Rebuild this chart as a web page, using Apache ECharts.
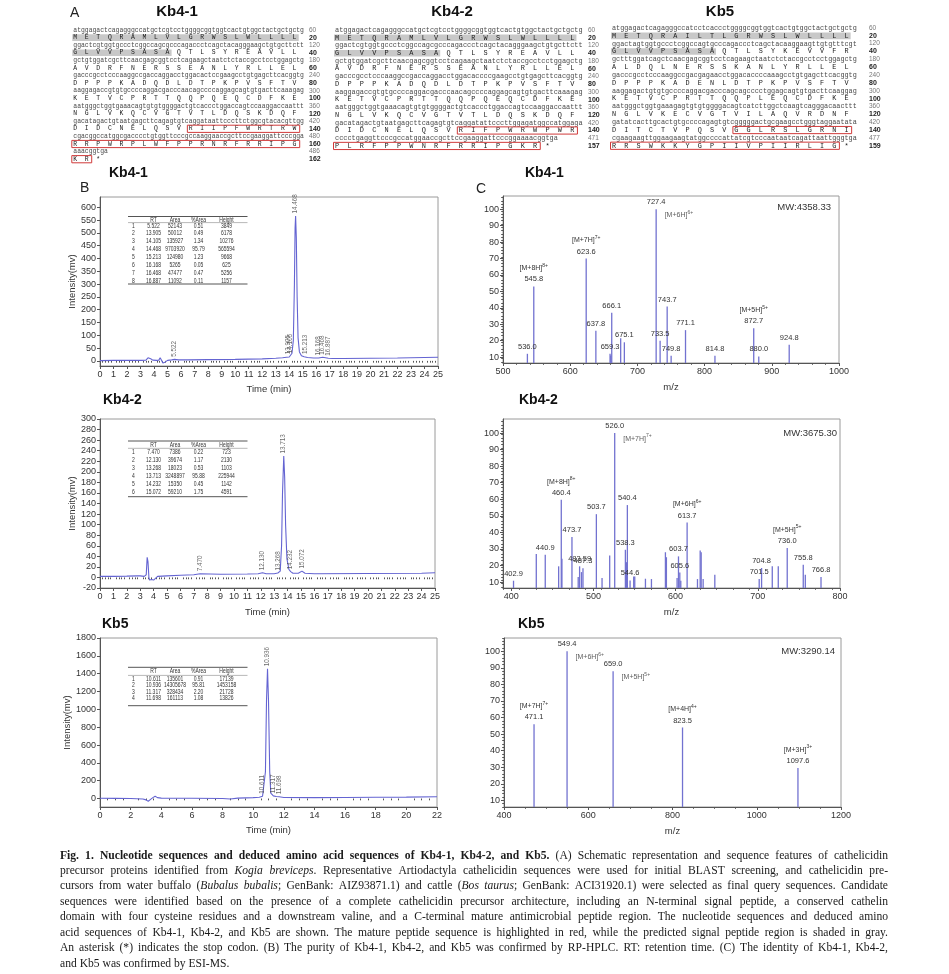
<!DOCTYPE html>
<html><head><meta charset="utf-8">
<script src="https://cdn.jsdelivr.net/npm/echarts@6/dist/echarts.min.js"></script>
<style>html,body{margin:0;padding:0;background:#fff}#c{width:949px;height:974px}</style>
</head><body><div id="c"></div>
<script>
// ================= DATA =================
const seqTitles = ['Kb4-1', 'Kb4-2', 'Kb5'];
const seq41Nt = [
'atggagactcagagggccatgctcgtcctggggcggtggtcactgtggctactgctgctg',
'ggactcgtggtgccctcggccagcgcccagaccctcagctacagggaagctgtgcttctt',
'gctgtggatcgcttcaacgagcggtcctcagaagctaatctctaccgcctcctggagctg',
'gacccgcctcccaaggccgaccaggacctggacactccgaagcctgtgagcttcacggtg',
'aaggagaccgtgtgccccaggacgacccaacagccccaggagcagtgtgacttcaaagag',
'aatgggctggtgaaacagtgtgtggggactgtcaccctggaccagtccaaggaccaattt',
'gacatagactgtaatgagcttcagagtgtcaggataattcccttctggcgtacacgttgg',
'cgacggccatggcgacccctgtggttcccgccaaggaaccgcttccgaaggattcccgga',
'aaacggtga'];
const seq41Aa = ['METQRAMLVLGRWSLWLLLL','GLVVPSASAQTLSYREAVLL','AVDRFNERSSEANLYRLLEL','DPPPKADQDLDTPKPVSFTV','KETVCPRTTQQPQEQCDFKE','NGLVKQCVGTVTLDQSKDQF','DIDCNELQSVRIIPFWRTRW','RRPWRPLWFPPRNRFRRIPG','KR*'];
const seq41NtNum = [60,120,180,240,300,360,420,480,486];
const seq41AaNum = [20,40,60,80,100,120,140,160,162];

const seq42Nt = [
'atggagactcagagggccatgctcgtcctggggcggtggtcactgtggctactgctgctg',
'ggactcgtggtgccctcggccagcgcccagaccctcagctacagggaagctgtgcttctt',
'gctgtggatcgcttcaacgagcggtcctcagaagctaatctctaccgcctcctggagctg',
'gacccgcctcccaaggccgaccaggacctggacaccccgaagcctgtgagcttcacggtg',
'aaggagaccgtgtgccccaggacgacccaacagccccaggagcagtgtgacttcaaagag',
'aatgggctggtgaaacagtgtgtggggactgtcaccctggaccagtccaaggaccaattt',
'gacatagactgtaatgagcttcagagtgtcaggatattcccttggagatggccatggaga',
'cccctgaggttcccgccatggaaccgcttccgaaggattcccggaaaacggtga'];
const seq42Aa = ['METQRAMLVLGRWSLWLLLL','GLVVPSASAQTLSYREAVLL','AVDRFNERSSEANLYRLLEL','DPPPKADQDLDTPKPVSFTV','KETVCPRTTQQPQEQCDFKE','NGLVKQCVGTVTLDQSKDQF','DIDCNELQSVRIFPWRWPWR','PLRFPPWNRFRRIPGKR*'];
const seq42NtNum = [60,120,180,240,300,360,420,471];
const seq42AaNum = [20,40,60,80,100,120,140,157];

const seq5Nt = [
'atggagactcagagggccatcctcaccctggggcggtggtcactgtggctactgctgctg',
'ggactagtggtgccctcggccagtgcccagaccctcagctacaaggaagttgtgtttcgt',
'gctttggatcagctcaacgagcggtcctcagaagctaatctctaccgcctcctggagctg',
'gacccgcctcccaaggccgacgagaacctggacaccccaaagcctgtgagcttcacggtg',
'aaggagactgtgtgccccaggacgacccagcagcccctggagcagtgtgacttcaaggag',
'aatgggctggtgaaagagtgtgtggggacagtcatcttggctcaagtcagggacaacttt',
'gatatcacttgcactgtgccccagagtgtcgggggactgcgaagcctgggtaggaatata',
'cgaagaagttggaagaagtatggccccattatcgtcccaataatcagattaattgggtga'];
const seq5Aa = ['METQRAILTLGRWSLWLLLL','GLVVPSASAQTLSYKEVVFR','ALDQLNERSSKANLYRLLEL','DPPPKADENLDTPKPVSFTV','KETVCPRTTQQPLEQCDFKE','NGLVKECVGTVILAQVRDNF','DITCTVPQSVGGLRSLGRNI','RRSWKKYGPIIVPIIRLIG*'];
const seq5NtNum = [60,120,180,240,300,360,420,477];
const seq5AaNum = [20,40,60,80,100,120,140,159];

// signal peptide (gray) and mature peptide (red) regions: [aa row, first residue, last residue]
const signal41 = [[0,0,19],[1,0,8]], mature41 = [[6,10,19],[7,0,19],[8,0,1]];
const signal42 = [[0,0,19],[1,0,8]], mature42 = [[6,10,19],[7,0,16]];
const signal5  = [[0,0,19],[1,0,8]], mature5  = [[6,10,19],[7,0,18]];

// RP-HPLC chromatograms (time in min, intensity in mV)
const hplc41T = [0,1,2,3,3.4,3.55,3.65,3.75,3.9,4.2,4.35,4.45,4.5,4.55,4.65,4.8,5.0,5.3,5.52,5.8,6.5,8,10,12,13,13.5,13.8,13.9,14.0,14.1,14.2,14.3,14.38,14.43,14.468,14.52,14.58,14.65,14.75,14.9,15.1,15.21,15.35,15.8,16.17,16.3,16.47,16.6,16.89,17.2,18,20,22,23,25];
const hplc41V = [1,2,2,2,3,12,15,8,3,2,3,12,13,2,-8,-5,2,4,6,4,4,5,6,8,10,12,14,16,15,20,30,80,300,520,566,480,250,90,35,20,16,17,13,11,11,10,14,11,10,9,9,10,11,12,14];
const hplc42T = [0,1,2,2.8,2.9,3.0,3.3,3.45,3.52,3.58,3.65,3.7,3.85,4.0,4.1,4.3,5,6,7,7.47,7.6,9,11,11.8,12.13,12.4,13.0,13.27,13.45,13.55,13.62,13.713,13.78,13.85,13.95,14.1,14.23,14.4,14.8,15.07,15.3,16,20,24,25];
const hplc42V = [2,2,2.5,3,4.5,3,2,5,38,30,0,-5,-4,-5,-2,2,3,4,5,7,5.5,6,6.5,7,9,7,7,8.5,12,60,160,230,190,100,35,15,11,8,8,12,8,7,7.5,8,9];
const hplc5T = [0,1,2,2.8,3.0,3.15,3.3,3.45,3.6,3.75,4.0,6,8,8.5,9,10,10.4,10.611,10.7,10.8,10.87,10.936,11.0,11.08,11.15,11.317,11.5,11.698,12,14,16,18,20,22];
const hplc5V = [3,2,0,-5,-15,-30,-10,10,25,10,5,3,0,-5,5,10,14,25,35,300,1100,1455,1100,300,60,30,22,20,12,10,12,14,16,20];

// peak tables: No, RT, Area, %Area, Height
const tableHead = ['', 'RT', 'Area', '%Area', 'Height'];
const table41 = [[1,'5.522','52143','0.51','3849'],[2,'13.905','50012','0.49','6178'],[3,'14.105','135927','1.34','10276'],[4,'14.468','9703920','95.79','565594'],[5,'15.213','124980','1.23','9668'],[6,'16.168','5265','0.05','625'],[7,'16.468','47477','0.47','5256'],[8,'16.887','11092','0.11','1157']];
const table42 = [[1,'7.470','7386','0.22','723'],[2,'12.130','39674','1.17','2130'],[3,'13.268','18023','0.53','1103'],[4,'13.713','3248897','95.88','225944'],[5,'14.232','15350','0.45','1142'],[6,'15.072','59210','1.75','4591']];
const table5 = [[1,'10.611','135601','0.91','17139'],[2,'10.936','14305678','95.81','1453158'],[3,'11.317','328434','2.20','21728'],[4,'11.698','161113','1.08','13826']];

// ESI-MS spectra
const ms41Mz  = [536.3,545.8,623.8,638.2,659.3,660.3,661.8,675.1,680.6,727.9,733.8,744.3,750.2,771.6,815.4,873.1,880.6,925.9];
const ms41Int = [12,53,70,26,12,11,37,21.5,19,100,20,40.7,10.8,26.4,10.8,27.6,10.4,17.5];
const ms41Lbl = ['536.0','545.8','623.6','637.8','659.3','','666.1','','675.1','727.4','733.5','743.7','749.8','771.1','814.8','872.7','880.0','924.8'];
const ms41IonTop = {1:'[M+8H]8+', 2:'[M+7H]7+', 15:'[M+5H]5+'};
const ms41IonSide = {9:'[M+6H]6+'};
const ms41MW = 'MW:4358.33';

const ms42Mz  = [402.8,430.5,441.4,457.7,460.9,461.7,473.9,481.5,483.2,485.5,487.3,503.6,510.5,519.8,525.9,538.9,540.1,541.3,544.6,549,550.3,563.3,570.6,587.6,588.8,601.8,603.5,605.1,606.3,614,626.6,629.9,631.1,633.5,647.7,701.7,704.6,717.6,724.9,735.8,755.3,757.8,776.9];
const ms42Int = [10.8,27,26.5,19.5,59.7,24,37.2,13,19.5,16,18.4,51,12.4,26,100,29.5,22,56.5,11,13.4,13.4,12,11.8,28,25,12.4,25.5,15.8,10.8,46,11.8,29,28,11.8,14.4,11.8,18.5,19.5,19.5,30.5,20.5,14.4,13];
const ms42Lbl = ['402.9','','440.9','','460.4','','473.7','','483.59','','487.3','503.7','','','526.0','538.3','','540.4','544.6','','','','','','','','603.7','605.6','','613.7','','','','','','701.5','704.8','','','736.0','755.8','','766.8'];
const ms42IonTop = {4:'[M+8H]8+', 29:'[M+6H]6+', 39:'[M+5H]5+'};
const ms42IonSide = {14:'[M+7H]7+'};
const ms42MW = 'MW:3675.30';

const ms5Mz  = [471.3,549.7,659,823.8,1097.8];
const ms5Int = [56,100,88,54,29.6];
const ms5Lbl = ['471.1','549.4','659.0','823.5','1097.6'];
const ms5IonTop = {0:'[M+7H]7+', 3:'[M+4H]4+', 4:'[M+3H]3+'};
const ms5IonSide = {1:'[M+6H]6+', 2:'[M+5H]5+'};
const ms5MW = 'MW:3290.14';

const caption = [
 [['b','Fig. 1. Nucleotide sequences and deduced amino acid sequences of Kb4-1, Kb4-2, and Kb5.'],['r',' (A) Schematic representation and sequence features of cathelicidin']],
 [['r','precursor proteins identified from '],['i','Kogia breviceps'],['r','. Representative Artiodactyla cathelicidin sequences were used for initial BLAST screening, and cathelicidin pre-']],
 [['r','cursors from water buffalo ('],['i','Bubalus bubalis'],['r','; GenBank: AIZ93871.1) and cattle ('],['i','Bos taurus'],['r','; GenBank: ACI31920.1) were selected as final query sequences. Candidate']],
 [['r','sequences were identified based on the presence of a complete cathelicidin precursor architecture, including an N-terminal signal peptide, a conserved cathelin']],
 [['r','domain with four cysteine residues and a downstream valine, and a C-terminal mature antimicrobial peptide region. The nucleotide sequences and deduced amino']],
 [['r','acid sequences of Kb4-1, Kb4-2, and Kb5 are shown. The mature peptide sequence is highlighted in red, while the predicted signal peptide region is shaded in gray.']],
 [['r','An asterisk (*) indicates the stop codon. (B) The purity of Kb4-1, Kb4-2, and Kb5 was confirmed by RP-HPLC. RT: retention time. (C) The identity of Kb4-1, Kb4-2,']],
 [['r','and Kb5 was confirmed by ESI-MS.']]
];

// ================= HELPERS =================
const SANS = 'Liberation Sans', MONO = 'Liberation Mono', SERIF = 'Liberation Serif';
const G = [];
function txt(x, y, text, o) {
  o = o || {};
  const el = {type:'text', x:x, y:y, z:o.z || 5, silent:true, style:{text:text, fill:o.fill || '#222', fontSize:o.fs || 10,
    fontFamily:o.ff || SANS, fontWeight:o.fw || 'normal', fontStyle:o.fst || 'normal',
    align:o.align || 'left', verticalAlign:o.va || 'middle'}};
  if (o.sx) el.scaleX = o.sx;
  G.push(el);
}
function rect(x, y, w, h, o) {
  G.push({type:'rect', z:o.z || 1, silent:true, shape:{x:x, y:y, width:w, height:h},
    style:{fill:o.fill || 'none', stroke:o.stroke || null, lineWidth:o.lw || 1}});
}
function hline(x1, x2, y, o) {
  G.push({type:'line', z:3, silent:true, shape:{x1:x1, y1:y, x2:x2, y2:y}, style:{stroke:o.stroke || '#444', lineWidth:o.lw || 1}});
}
function range(a, b, s) { const r = []; for (let v = a; v <= b + 1e-9; v += s) r.push(+v.toFixed(6)); return r; }
function interp(ts, vs, t) {
  for (let i = 1; i < ts.length; i++) if (t <= ts[i]) { const f = (t - ts[i-1]) / (ts[i] - ts[i-1]); return vs[i-1] + f * (vs[i] - vs[i-1]); }
  return vs[vs.length - 1];
}

// ================= PANEL A : sequences =================
txt(70, 13, 'A', {fs:14});
const blocks = [
  {title:seqTitles[0], tx:177, x0:73.3, fs:6.42, y0:30, step:7.6, numX:309, nt:seq41Nt, aa:seq41Aa, ntN:seq41NtNum, aaN:seq41AaNum, sig:signal41, mat:mature41},
  {title:seqTitles[1], tx:452, x0:335, fs:6.88, y0:30, step:7.73, numX:588, nt:seq42Nt, aa:seq42Aa, ntN:seq42NtNum, aaN:seq42AaNum, sig:signal42, mat:mature42},
  {title:seqTitles[2], tx:720, x0:612, fs:6.8, y0:28, step:7.85, numX:869, nt:seq5Nt, aa:seq5Aa, ntN:seq5NtNum, aaN:seq5AaNum, sig:signal5, mat:mature5}
];
blocks.forEach(b => {
  txt(b.tx, 12, b.title, {fs:15, fw:'bold', align:'center', fill:'#111'});
  const cw = b.fs * 0.6;
  const aaY = r => b.y0 + (2 * r + 1) * b.step;
  b.nt.forEach((s, r) => {
    const y = b.y0 + 2 * r * b.step;
    txt(b.x0, y, s, {ff:MONO, fs:b.fs, fill:'#4a4a4a'});
    txt(b.numX, y, String(b.ntN[r]), {fs:6.5, fill:'#777'});
    txt(b.x0, aaY(r), b.aa[r].split('').join('  '), {ff:MONO, fs:b.fs, fill:'#1a1a1a'});
    txt(b.numX, aaY(r), String(b.aaN[r]), {fs:7, fw:'bold', fill:'#222'});
  });
  b.sig.forEach(([r, s, e]) => rect(b.x0 + s * 3 * cw - 1, aaY(r) - 3.3, ((e - s) * 3 + 1) * cw + 3, 6.6, {fill:'#c8c8c8', z:1}));
  b.mat.forEach(([r, s, e]) => rect(b.x0 + s * 3 * cw - 1.5, aaY(r) - 3.6, ((e - s) * 3 + 1) * cw + 4.5, 7.2, {stroke:'#d03a3a', lw:1, z:6}));
});

// ================= PANELS B & C : titles, tables, MW =================
txt(109, 173, 'Kb4-1', {fs:14, fw:'bold', fill:'#111'});
txt(80, 188, 'B', {fs:14});
txt(103, 400, 'Kb4-2', {fs:14, fw:'bold', fill:'#111'});
txt(102, 624, 'Kb5', {fs:14, fw:'bold', fill:'#111'});
txt(525, 173, 'Kb4-1', {fs:14, fw:'bold', fill:'#111'});
txt(476, 189, 'C', {fs:14});
txt(519, 400, 'Kb4-2', {fs:14, fw:'bold', fill:'#111'});
txt(518, 624, 'Kb5', {fs:14, fw:'bold', fill:'#111'});
txt(831, 207, ms41MW, {fs:9.5, align:'right', fill:'#333'});
txt(837, 433, ms42MW, {fs:9.5, align:'right', fill:'#333'});
txt(835, 651, ms5MW, {fs:9.5, align:'right', fill:'#333'});

function drawTable(t, rows) {
  const cols = [133.5, 153.5, 175, 198.5, 226.5];
  const o = {fs:6.4, align:'center', fill:'#333', sx:0.78};
  hline(128, 247.5, t.top, {lw:1, stroke:'#555'});
  tableHead.forEach((h, j) => txt(cols[j], t.head, h, o));
  hline(128, 247.5, t.under, {lw:0.6, stroke:'#888'});
  rows.forEach((r, i) => r.forEach((c, j) => txt(cols[j], t.row0 + i * t.step, String(c), o)));
  hline(128, 247.5, t.bottom, {lw:1, stroke:'#555'});
}
drawTable({top:216.5, head:220, under:222.6, row0:225.8, step:7.85, bottom:284}, table41);
drawTable({top:441, head:445, under:448.3, row0:452.3, step:8, bottom:496.7}, table42);
drawTable({top:667.3, head:671.7, under:675.4, row0:679.3, step:6.4, bottom:705.7}, table5);

// ================= CAPTION (justified) =================
const mctx = document.createElement('canvas').getContext('2d');
function capFont(st, fs) { return (st === 'i' ? 'italic ' : '') + (st === 'b' ? 'bold ' : '') + fs + 'px "' + SERIF + '"'; }
function mw(st, fs, t) { mctx.font = capFont(st, fs); return mctx.measureText(t).width; }
function toWords(line) {
  const ws = []; let cur = [];
  line.forEach(([st, t]) => {
    t.split(' ').forEach((p, k) => { if (k > 0) { if (cur.length) ws.push(cur); cur = []; } if (p) cur.push([st, p]); });
  });
  if (cur.length) ws.push(cur);
  return ws;
}
(function() {
  const capX = 60, capW = 828, y0 = 855.5, dy = 15.45;
  let fs = 11.6, worst = 1;
  caption.forEach((ln, li) => {
    if (li === caption.length - 1) return;
    const ws = toWords(ln);
    const tw = ws.reduce((a, w) => a + w.reduce((s, [st, t]) => s + mw(st, fs, t), 0), 0);
    worst = Math.min(worst, capW / (tw + fs * 0.18 * (ws.length - 1)));
  });
  fs = fs * worst;
  caption.forEach((ln, li) => {
    const ws = toWords(ln);
    const widths = ws.map(w => w.reduce((s, [st, t]) => s + mw(st, fs, t), 0));
    const tw = widths.reduce((a, b) => a + b, 0);
    const gap = li === caption.length - 1 ? mw('r', fs, ' ') : (capW - tw) / (ws.length - 1);
    let x = capX;
    const y = y0 + li * dy;
    ws.forEach((w, k) => {
      w.forEach(([st, t]) => {
        txt(x, y, t, {ff:SERIF, fs:fs, fw:st === 'b' ? 'bold' : 'normal', fst:st === 'i' ? 'italic' : 'normal', fill:'#1a1a1a'});
        x += mw(st, fs, t);
      });
      x += gap;
    });
  });
})();

// ================= CHART OPTION =================
const grids = [
  {left:100, top:197, width:338, height:169},
  {left:100, top:419, width:335, height:169},
  {left:100, top:638, width:337, height:169},
  {left:503, top:196, width:336, height:167},
  {left:503, top:419, width:337, height:169},
  {left:504, top:638, width:337, height:169}
].map(g => Object.assign(g, {show:true, borderColor:'#9a9a9a', borderWidth:1, backgroundColor:'transparent'}));

const axisCol = '#555', lblStyle = {fontSize:9, color:'#333', fontFamily:SANS, formatter:v => String(v)};
function axesPair(dim, g, min, max, majors, minors, name, nameGap) {
  const pos = dim === 'x' ? 'bottom' : 'left';
  const main = {type:'value', gridIndex:g, min:min, max:max, position:pos,
    axisLine:{show:true, onZero:false, lineStyle:{color:axisCol, width:1}},
    axisTick:{show:true, customValues:majors, length:3, lineStyle:{color:axisCol}},
    axisLabel:Object.assign({customValues:majors, margin:4}, lblStyle),
    splitLine:{show:false}};
  if (name) Object.assign(main, {name:name, nameLocation:'middle', nameGap:nameGap,
    nameTextStyle:{fontSize:9.5, color:'#333', fontFamily:SANS}});
  const minor = {type:'value', gridIndex:g, min:min, max:max, position:pos,
    axisLine:{show:false}, axisLabel:{show:false}, splitLine:{show:false},
    axisTick:minors.length ? {show:true, customValues:minors, length:1.8, lineStyle:{color:axisCol}} : {show:false}};
  return [main, minor];
}
function minorsOf(a, b, s, majors) { return range(a, b, s).filter(v => !majors.some(m => Math.abs(m - v) < 1e-6)); }

const xA = [], yA = [];
function addGrid(g, xmin, xmax, xMaj, xMinStep, xName, xGap, ymin, ymax, yMaj, yMinStep, yName) {
  xA.push(...axesPair('x', g, xmin, xmax, xMaj, xMinStep ? minorsOf(xmin, xmax, xMinStep, xMaj) : [], xName, xGap));
  yA.push(...axesPair('y', g, ymin, ymax, yMaj, yMinStep ? minorsOf(Math.ceil(ymin), ymax, yMinStep, yMaj) : [], yName, 23));
}
addGrid(0, 0, 25, range(0, 25, 1), 0.2, 'Time (min)', 18, -20, 640, range(0, 600, 50), 0, 'Intensity(mv)');
addGrid(1, 0, 25, range(0, 25, 1), 0.2, 'Time (min)', 19, -20, 300, range(-20, 300, 20), 0, 'Intensity(mv)');
addGrid(2, 0, 22, range(0, 22, 2), 0.5, 'Time (min)', 18, -95, 1800, range(0, 1800, 200), 0, 'Intensity(mv)');
addGrid(3, 500, 1000, range(500, 1000, 100), 20, 'm/z', 19, 6.4, 108, range(10, 100, 10), 2, '');
addGrid(4, 390, 800, range(400, 800, 100), 20, 'm/z', 19, 6.4, 108.5, range(10, 100, 10), 2, '');
addGrid(5, 400, 1200, range(400, 1200, 200), 50, 'm/z', 19, 6, 108, range(10, 100, 10), 2, '');

const lineColor = '#6464d2', barColor = '#7272d0';
const series = [];
function hplc(g, T, V, tbl) {
  series.push({type:'line', xAxisIndex:2 * g, yAxisIndex:2 * g, data:T.map((t, i) => [t, V[i]]),
    showSymbol:false, symbol:'none', silent:true, lineStyle:{color:lineColor, width:1.1}, z:3});
  series.push({type:'scatter', xAxisIndex:2 * g, yAxisIndex:2 * g, symbolSize:1, silent:true,
    itemStyle:{color:'transparent'},
    data:tbl.map(r => [parseFloat(r[1]), interp(T, V, parseFloat(r[1])), r[1]]),
    label:{show:true, position:'top', distance:2, rotate:90, align:'left', verticalAlign:'middle',
      fontSize:6.3, color:'#444', fontFamily:SANS, formatter:p => p.data[2]}, z:4});
}
hplc(0, hplc41T, hplc41V, table41);
hplc(1, hplc42T, hplc42V, table42);
hplc(2, hplc5T, hplc5V, table5);

function ionRich(s) { const k = s.indexOf(']') + 1; return '{i|' + s.slice(0, k) + '}{s|' + s.slice(k) + '}'; }
const rich = {
  i:{fontSize:7, fontFamily:SANS, color:'#333', lineHeight:11},
  s:{fontSize:5, fontFamily:SANS, color:'#333', lineHeight:6, verticalAlign:'top'},
  n:{fontSize:7.5, fontFamily:SANS, color:'#333', lineHeight:11}
};
function ms(g, mz, inten, lbl, ionTop, ionSide) {
  series.push({type:'bar', xAxisIndex:2 * g, yAxisIndex:2 * g, barWidth:1.3, silent:true, z:3,
    itemStyle:{color:barColor},
    data:mz.map((x, i) => {
      const it = {value:[x, inten[i]]};
      let t = '';
      if (ionTop[i]) t += ionRich(ionTop[i]) + '\n';
      if (lbl[i]) t += '{n|' + lbl[i] + '}';
      if (t) it.label = {show:true, formatter:() => t};
      return it;
    }),
    label:{show:false, position:'top', distance:1.5, rich:rich, align:'center'}});
  series.push({type:'scatter', xAxisIndex:2 * g, yAxisIndex:2 * g, symbolSize:1, silent:true, z:4,
    itemStyle:{color:'transparent'},
    data:Object.keys(ionSide).map(k => ({value:[mz[k], inten[k]], name:ionSide[k]})),
    label:{show:true, position:'right', distance:8, offset:[0, 6], rich:rich, formatter:p => ionRich(p.name)}});
}
ms(3, ms41Mz, ms41Int, ms41Lbl, ms41IonTop, ms41IonSide);
ms(4, ms42Mz, ms42Int, ms42Lbl, ms42IonTop, ms42IonSide);
ms(5, ms5Mz, ms5Int, ms5Lbl, ms5IonTop, ms5IonSide);

const chart = echarts.init(document.getElementById('c'), null, {renderer:'canvas'});
chart.setOption({
  animation:false,
  backgroundColor:'#ffffff',
  textStyle:{fontFamily:SANS},
  grid:grids, xAxis:xA, yAxis:yA, series:series,
  graphic:{elements:G}
});
</script>
</body></html>
